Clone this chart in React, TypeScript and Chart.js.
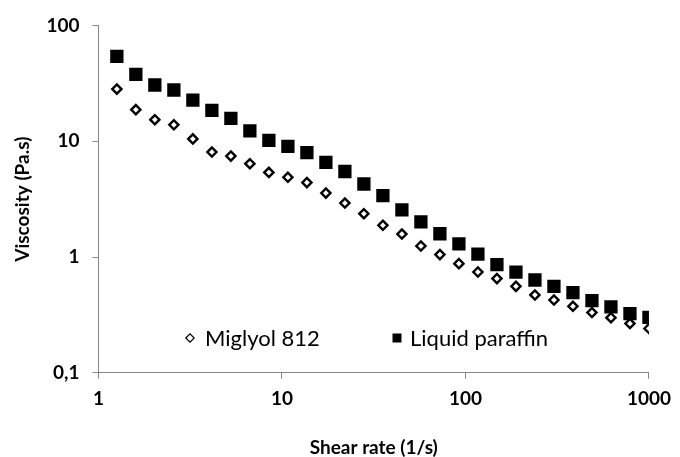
import React, { useEffect, useRef } from 'react';
import { Chart, registerables } from 'chart.js';

Chart.register(...registerables);

// Shear rate (1/s)
const shearRate = [
  1.259, 1.598, 2.028, 2.575, 3.268, 4.149, 5.266, 6.683, 8.483, 10.77,
  13.67, 17.35, 22.02, 27.95, 35.48, 45.03, 57.16, 72.55, 92.1, 116.9,
  148.4, 188.4, 239.1, 303.5, 385.2, 489.0, 620.7, 787.8, 1000,
];

// Viscosity (Pa.s)
const miglyol = [
  28.3, 18.8, 15.4, 13.9, 10.5, 8.08, 7.46, 6.41, 5.39, 4.89,
  4.4, 3.57, 2.93, 2.37, 1.88, 1.58, 1.245, 1.05, 0.877, 0.742,
  0.651, 0.558, 0.47, 0.425, 0.375, 0.331, 0.299, 0.266, 0.241,
];

const paraffin = [
  54.3, 37.9, 30.7, 27.8, 22.7, 18.5, 15.8, 12.3, 10.2, 9.05,
  7.99, 6.57, 5.49, 4.28, 3.39, 2.56, 2.01, 1.59, 1.3, 1.06,
  0.859, 0.742, 0.633, 0.558, 0.492, 0.42, 0.37, 0.324, 0.301,
];

const seriesLabels = ['Miglyol 812', 'Liquid paraffin'];
const xTicks = [1, 10, 100, 1000];
const xTickLabels = ['1', '10', '100', '1000'];
const yTicks = [0.1, 1, 10, 100];
const yTickLabels = ['0,1', '1', '10', '100'];
const xTitle = 'Shear rate (1/s)';
const yTitle = 'Viscosity (Pa.s)';

const FONT = 'Lato, "Open Sans", sans-serif';
const AXIS_COLOR = '#868686';

const insideLegend = {
  id: 'insideLegend',
  afterDraw(chart: any) {
    const ctx = chart.ctx;
    const ds = chart.data.datasets;
    const y = 338;
    ctx.save();
    ctx.font = `22px ${FONT}`;
    ctx.fillStyle = '#000';
    ctx.textBaseline = 'middle';
    ctx.textAlign = 'left';
    // Miglyol: open diamond
    const dx = 190;
    const r = 4.2;
    ctx.beginPath();
    ctx.moveTo(dx - r, y);
    ctx.lineTo(dx, y - r);
    ctx.lineTo(dx + r, y);
    ctx.lineTo(dx, y + r);
    ctx.closePath();
    ctx.fillStyle = '#fff';
    ctx.fill();
    ctx.lineWidth = 1.2;
    ctx.strokeStyle = '#000';
    ctx.stroke();
    ctx.fillStyle = '#000';
    ctx.fillText(ds[0].label, 205, y + 1);
    // Paraffin: filled square
    const sx = 397;
    const s = 9;
    ctx.fillRect(sx - s / 2, y - s / 2, s, s);
    ctx.fillText(ds[1].label, 410, y + 1);
    ctx.restore();
  },
};

export default function App() {
  const canvasRef = useRef<HTMLCanvasElement | null>(null);

  useEffect(() => {
    if (!canvasRef.current) return;
    const chart = new Chart(canvasRef.current, {
      type: 'scatter',
      data: {
        datasets: [
          {
            label: seriesLabels[0],
            data: shearRate.map((x, i) => ({ x, y: miglyol[i] })),
            pointStyle: 'rectRot',
            pointRadius: 4.6,
            pointBorderWidth: 2.4,
            pointBackgroundColor: '#fff',
            pointBorderColor: '#000',
            showLine: false,
          },
          {
            label: seriesLabels[1],
            data: shearRate.map((x, i) => ({ x, y: paraffin[i] })),
            pointStyle: 'rect',
            pointRadius: 9.4,
            pointBorderWidth: 0,
            pointBackgroundColor: '#000',
            pointBorderColor: '#000',
            showLine: false,
          },
        ],
      },
      options: {
        animation: false,
        responsive: true,
        maintainAspectRatio: false,
        layout: { padding: { top: 25.7, right: 25.3, left: 0, bottom: 0 } },
        plugins: {
          legend: { display: false },
          tooltip: { enabled: false },
        },
        scales: {
          x: {
            type: 'logarithmic',
            position: 'bottom',
            min: 1,
            max: 1000,
            afterBuildTicks: (scale: any) => {
              scale.ticks = xTicks.map((v) => ({ value: v }));
            },
            afterFit: (scale: any) => {
              scale.height = 84.3;
            },
            ticks: {
              autoSkip: false,
              maxRotation: 0,
              padding: 9,
              color: '#000',
              font: { family: FONT, size: 19, weight: 'bold' },
              callback: (v: any) => {
                const i = xTicks.indexOf(Number(v));
                return i >= 0 ? xTickLabels[i] : '';
              },
            },
            grid: {
              display: true,
              drawOnChartArea: false,
              drawTicks: true,
              tickLength: 6,
              color: AXIS_COLOR,
            },
            border: { display: true, color: AXIS_COLOR, width: 1 },
            title: {
              display: true,
              text: xTitle,
              color: '#000',
              font: { family: FONT, size: 19, weight: 'bold', lineHeight: 1 },
              padding: { top: 0, bottom: 0 },
            },
          },
          y: {
            type: 'logarithmic',
            position: 'left',
            min: 0.1,
            max: 100,
            afterBuildTicks: (scale: any) => {
              scale.ticks = yTicks.map((v) => ({ value: v }));
            },
            afterFit: (scale: any) => {
              scale.width = 98.5;
            },
            ticks: {
              autoSkip: false,
              padding: 13,
              color: '#000',
              font: { family: FONT, size: 19, weight: 'bold' },
              callback: (v: any) => {
                const i = yTicks.findIndex((t) => Math.abs(t - Number(v)) < 1e-9);
                return i >= 0 ? yTickLabels[i] : '';
              },
            },
            grid: {
              display: true,
              drawOnChartArea: false,
              drawTicks: true,
              tickLength: 6,
              color: AXIS_COLOR,
            },
            border: { display: true, color: AXIS_COLOR, width: 1 },
            title: {
              display: true,
              text: yTitle,
              color: '#000',
              font: { family: FONT, size: 19, weight: 'bold', lineHeight: 1 },
              padding: { top: 13.5, bottom: 0 },
            },
          },
        },
      },
      plugins: [insideLegend],
    });
    return () => chart.destroy();
  }, []);

  return (
    <div style={{ position: 'absolute', left: 0, top: 0, width: 680, height: 457 }}>
      <canvas ref={canvasRef} />
    </div>
  );
}
